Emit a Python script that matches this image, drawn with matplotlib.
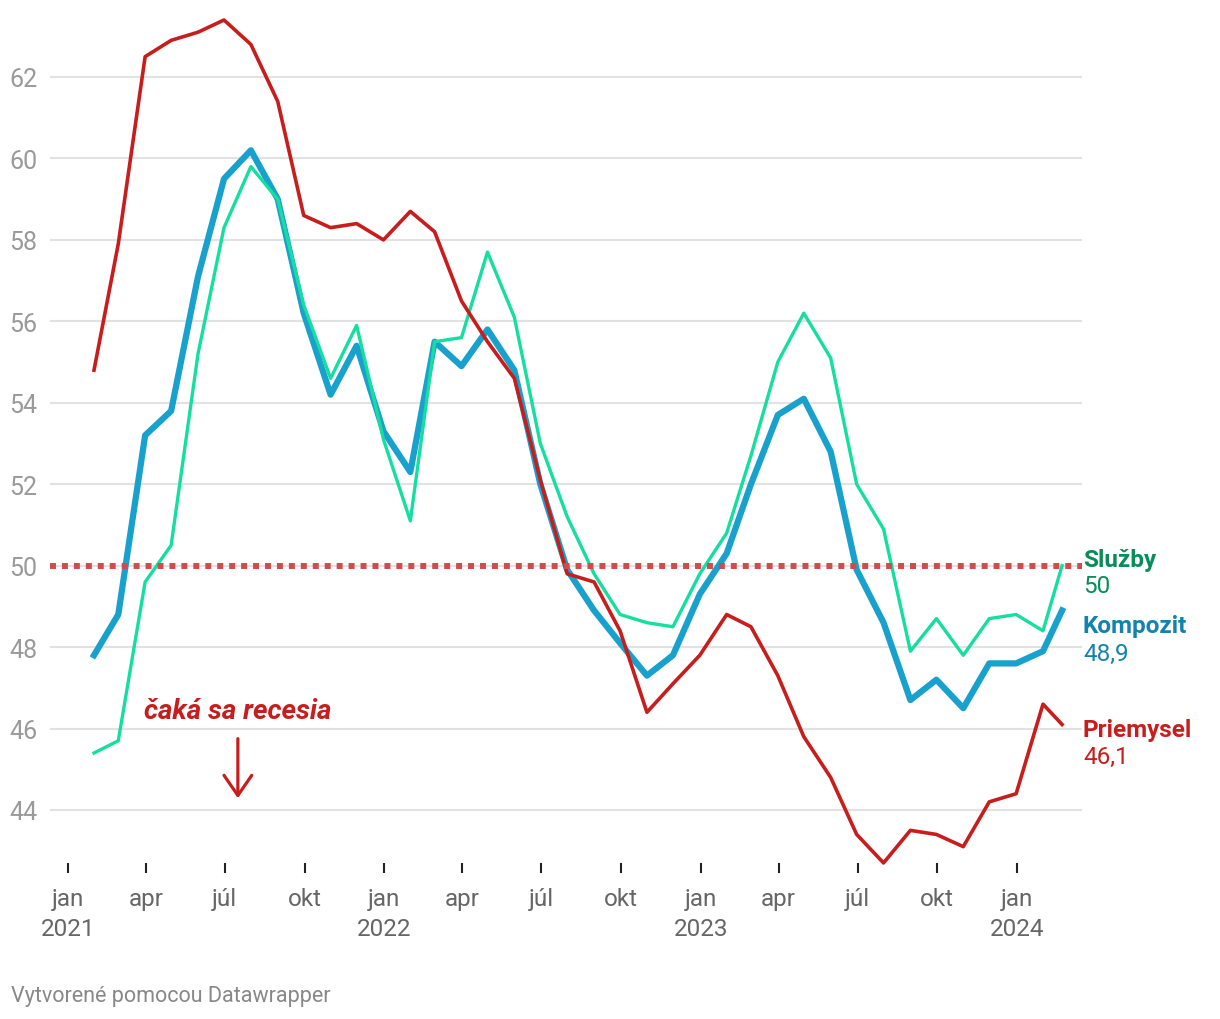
import matplotlib
matplotlib.use("Agg")
import matplotlib.pyplot as plt
import matplotlib.dates as mdates
import pandas as pd

plt.rcParams['font.family'] = ['Roboto', 'DejaVu Sans']

# month-end dates, last value is the flash estimate
dates = list(pd.date_range("2021-01-31", "2024-01-31", freq="ME")) + [pd.Timestamp("2024-02-22")]

priemysel = [54.8, 57.9, 62.5, 62.9, 63.1, 63.4, 62.8, 61.4, 58.6, 58.3, 58.4, 58.0,
             58.7, 58.2, 56.5, 55.5, 54.6, 52.1, 49.8, 49.6, 48.4, 46.4, 47.1, 47.8,
             48.8, 48.5, 47.3, 45.8, 44.8, 43.4, 42.7, 43.5, 43.4, 43.1, 44.2, 44.4,
             46.6, 46.1]
sluzby = [45.4, 45.7, 49.6, 50.5, 55.2, 58.3, 59.8, 59.0, 56.4, 54.6, 55.9, 53.1,
          51.1, 55.5, 55.6, 57.7, 56.1, 53.0, 51.2, 49.8, 48.8, 48.6, 48.5, 49.8,
          50.8, 52.7, 55.0, 56.2, 55.1, 52.0, 50.9, 47.9, 48.7, 47.8, 48.7, 48.8,
          48.4, 50.0]
kompozit = [47.8, 48.8, 53.2, 53.8, 57.1, 59.5, 60.2, 59.0, 56.2, 54.2, 55.4, 53.3,
            52.3, 55.5, 54.9, 55.8, 54.8, 52.0, 49.9, 48.9, 48.1, 47.3, 47.8, 49.3,
            50.3, 52.0, 53.7, 54.1, 52.8, 49.9, 48.6, 46.7, 47.2, 46.5, 47.6, 47.6,
            47.9, 48.9]

tick_dates = pd.date_range("2021-01-01", "2024-01-01", freq="3MS")
month_names = {1: "jan", 4: "apr", 7: "júl", 10: "okt"}
tick_labels = [month_names[d.month] + (f"\n{d.year}" if d.month == 1 else "") for d in tick_dates]
y_ticks = [44, 46, 48, 50, 52, 54, 56, 58, 60, 62]

RED = "#c71e1d"
BLUE = "#18a1cd"
GREEN = "#15dea0"

W, H = 1220, 1020
fig = plt.figure(figsize=(W / 100, H / 100), dpi=100)
ax = fig.add_axes([50 / W, 1 - 874 / H, (1082 - 50) / W, (874 - 10) / H])

ax.plot(dates, kompozit, color=BLUE, lw=4.5, zorder=3)
ax.plot(dates, sluzby, color=GREEN, lw=2.4, zorder=4)
ax.plot(dates, priemysel, color=RED, lw=2.6, zorder=5)
ax.axhline(50, color="#d44a4a", lw=4.3, linestyle=(0, (1, 1)), dash_capstyle='butt', zorder=6)

# x range: ticks at jan 2021 -> px 68, jan 2024 -> px 1017
t0 = mdates.date2num(pd.Timestamp("2021-01-01"))
t1 = mdates.date2num(pd.Timestamp("2024-01-01"))
ppd = (1017 - 68) / (t1 - t0)
ax.set_xlim(t0 - (68 - 50) / ppd, t1 + (1082 - 1017) / ppd)
# y range: 62 -> px 78, 44 -> px 811
ppu = (811 - 78) / 18
ax.set_ylim(44 - (874 - 811) / ppu, 62 + (78 - 10) / ppu)

for s in ax.spines.values():
    s.set_visible(False)
ax.set_yticks(y_ticks)
ax.set_yticklabels([str(v) for v in y_ticks])
ax.tick_params(axis='y', length=0, pad=9, labelsize=18, labelcolor="#9a9a9a")
ax.grid(axis='y', color="#e2e2e2", lw=1.5, zorder=0)
ax.set_xticks(tick_dates)
ax.set_xticklabels(tick_labels, linespacing=1.4)
ax.tick_params(axis='x', direction='in', length=7.5, width=1.5, color="#222222",
               pad=10, labelsize=17.5, labelcolor="#666666")

# end labels
lx = 1083 / W
for name, val, y, c in [("Služby", "50", 560, "#0a8c5a"),
                        ("Kompozit", "48,9", 627, "#1582ad"),
                        ("Priemysel", "46,1", 730, RED)]:
    fig.text(lx, 1 - y / H, name, color=c, fontsize=17.5, fontweight='bold', va='center', ha='left')
    fig.text(lx, 1 - (y + 27) / H, val, color=c, fontsize=17.5, va='center', ha='left')

# annotation
ax_x = pd.Timestamp("2021-07-16")
ax.text(ax_x, 46.45, "čaká sa recesia", color=RED, fontsize=20, fontweight='bold',
        fontstyle='italic', ha='center', va='center')
ax.annotate("", xy=(ax_x, 44.22), xytext=(ax_x, 45.82),
            arrowprops=dict(arrowstyle="->,head_length=1.45,head_width=1.0", color=RED, lw=2.3))

fig.text(11 / W, 1 - 997 / H, "Vytvorené pomocou Datawrapper", color="#888888", fontsize=15.5,
         va='center', ha='left')

fig.savefig("out.png", dpi=100)
